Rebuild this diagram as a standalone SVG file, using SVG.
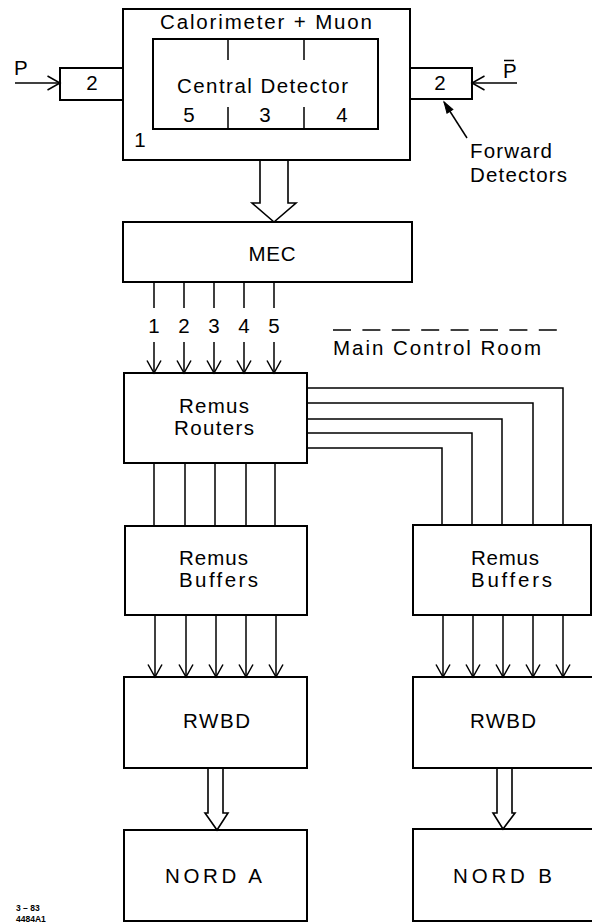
<svg xmlns="http://www.w3.org/2000/svg" width="592" height="923" viewBox="0 0 592 923">
<style>
text{font-family:"Liberation Sans",Arial,sans-serif;fill:#000}
.t{font-size:20.5px}
.m{text-anchor:middle}
.box{fill:#fff;stroke:#000;stroke-width:2}
.ln{fill:none;stroke:#000;stroke-width:1.5}
.hollow{fill:#fff;stroke:#000;stroke-width:1.6;stroke-linejoin:miter}
.sm{font-size:8.5px;font-weight:bold}
</style>
<defs>
<marker id="v" viewBox="-14 -9 16 18" markerWidth="16" markerHeight="18" refX="0" refY="0" orient="auto" markerUnits="userSpaceOnUse">
<path d="M-12.5,-7 L0,0 L-12.5,7" fill="none" stroke="#000" stroke-width="1.5"/>
</marker>
<marker id="f" viewBox="-12 -5 14 10" markerWidth="14" markerHeight="10" refX="0" refY="0" orient="auto" markerUnits="userSpaceOnUse">
<path d="M-11,-3.5 L0,0 L-11,3.5 Z" fill="#000" stroke="#000" stroke-width="1"/>
</marker>
</defs>
<rect width="592" height="923" fill="#fff"/>

<g id="detector">
<rect class="box" x="60" y="68" width="63" height="32"/>
<rect class="box" x="410" y="68" width="62" height="31"/>
<rect class="box" x="123" y="9" width="287" height="151"/>
<rect class="box" x="153" y="39" width="225" height="90"/>
<path class="ln" d="M228,39 V60 M228,107 V129 M304,39 V60 M304,107 V129" stroke-width="2"/>
<text class="t" x="160" y="29" textLength="212" lengthAdjust="spacing">Calorimeter + Muon</text>
<text class="t" x="177" y="93" textLength="171" lengthAdjust="spacing">Central Detector</text>
<text class="t m" x="189" y="122">5</text>
<text class="t m" x="265" y="122">3</text>
<text class="t m" x="342" y="122">4</text>
<text class="t m" x="140" y="147">1</text>
<text class="t m" x="92" y="90">2</text>
<text class="t m" x="440" y="90">2</text>
</g>

<g id="beams">
<text class="t" x="14" y="75" font-size="18">P</text>
<text class="t" x="503" y="78" font-size="18">P</text>
<path class="ln" d="M504,60.5 H514"/>
<text class="t" x="470" y="158" textLength="82" lengthAdjust="spacing">Forward</text>
<text class="t" x="470" y="182" textLength="97" lengthAdjust="spacing">Detectors</text>
</g>

<g id="mec">
<rect class="box" x="123" y="222" width="289" height="60"/>
<text class="t m" x="272" y="261" textLength="47" lengthAdjust="spacing">MEC</text>
</g>

<g id="control-room">
<path class="ln" d="M333,330 H557" stroke-dasharray="18 11.4"/>
<text class="t" x="333" y="355" textLength="208" lengthAdjust="spacing">Main Control Room</text>
</g>

<g id="routers">
<rect class="box" x="124" y="373" width="183" height="90"/>
<text class="t" x="179" y="413" textLength="70" lengthAdjust="spacing">Remus</text>
<text class="t" x="174" y="435" textLength="80" lengthAdjust="spacing">Routers</text>
</g>

<g id="buffers-a">
<rect class="box" x="125" y="526" width="182" height="89"/>
<text class="t" x="179" y="565" textLength="69" lengthAdjust="spacing">Remus</text>
<text class="t" x="179" y="587" textLength="79" lengthAdjust="spacing">Buffers</text>
</g>

<g id="buffers-b">
<rect class="box" x="413" y="525" width="178" height="90"/>
<text class="t" x="471" y="565" textLength="68" lengthAdjust="spacing">Remus</text>
<text class="t" x="471" y="587" textLength="81" lengthAdjust="spacing">Buffers</text>
</g>

<g id="rwbd-a">
<rect class="box" x="124" y="677" width="183" height="91"/>
<text class="t" x="183" y="728" textLength="67" lengthAdjust="spacing">RWBD</text>
</g>

<g id="rwbd-b">
<rect class="box" x="413" y="677" width="190" height="91"/>
<text class="t" x="470" y="728" textLength="66" lengthAdjust="spacing">RWBD</text>
</g>

<g id="nord-a">
<rect class="box" x="124" y="830" width="183" height="91"/>
<text class="t" x="165" y="883" textLength="97" lengthAdjust="spacing">NORD A</text>
</g>

<g id="nord-b">
<rect class="box" x="413" y="829" width="190" height="92"/>
<text class="t" x="453" y="883" textLength="99" lengthAdjust="spacing">NORD B</text>
</g>

<g id="connectors">
<path class="ln" d="M15,83 H60" marker-end="url(#v)"/>
<path class="ln" d="M517,83 H472" marker-end="url(#v)"/>
<path class="ln" d="M467,138 L444,102" marker-end="url(#f)"/>
<path class="hollow" d="M260,161 V203 H252 L274,222 L296,203 H288 V161"/>
<path class="ln" d="M154,282 V308 M184,282 V308 M214,282 V308 M244,282 V308 M274,282 V308"/>
<text class="t m" x="154" y="333">1</text>
<text class="t m" x="184" y="333">2</text>
<text class="t m" x="214" y="333">3</text>
<text class="t m" x="244" y="333">4</text>
<text class="t m" x="274" y="333">5</text>
<path class="ln" d="M154,342 V373" marker-end="url(#v)"/>
<path class="ln" d="M184,342 V373" marker-end="url(#v)"/>
<path class="ln" d="M214,342 V373" marker-end="url(#v)"/>
<path class="ln" d="M244,342 V373" marker-end="url(#v)"/>
<path class="ln" d="M274,342 V373" marker-end="url(#v)"/>
<path class="ln" d="M154,463 V526 M185,463 V526 M215,463 V526 M246,463 V526 M275,463 V526"/>
<path class="ln" d="M307,388 H563 V525 M307,403 H533 V525 M307,419 H502 V525 M307,433 H472 V525 M307,448 H442 V525"/>
<path class="ln" d="M155,615 V677" marker-end="url(#v)"/>
<path class="ln" d="M186,615 V677" marker-end="url(#v)"/>
<path class="ln" d="M216,615 V677" marker-end="url(#v)"/>
<path class="ln" d="M246,615 V677" marker-end="url(#v)"/>
<path class="ln" d="M276,615 V677" marker-end="url(#v)"/>
<path class="ln" d="M443,615 V677" marker-end="url(#v)"/>
<path class="ln" d="M473,615 V677" marker-end="url(#v)"/>
<path class="ln" d="M503,615 V677" marker-end="url(#v)"/>
<path class="ln" d="M533,615 V677" marker-end="url(#v)"/>
<path class="ln" d="M563,615 V677" marker-end="url(#v)"/>
<path class="hollow" d="M208,769 V813 H205 L217,830 L228,813 H223 V769"/>
<path class="hollow" d="M497,769 V813 H493 L503,829 L515,813 H512 V769"/>
</g>

<g id="footer">
<text class="sm" x="16" y="911">3 – 83</text>
<text class="sm" x="16" y="921.5">4484A1</text>
</g>
</svg>
